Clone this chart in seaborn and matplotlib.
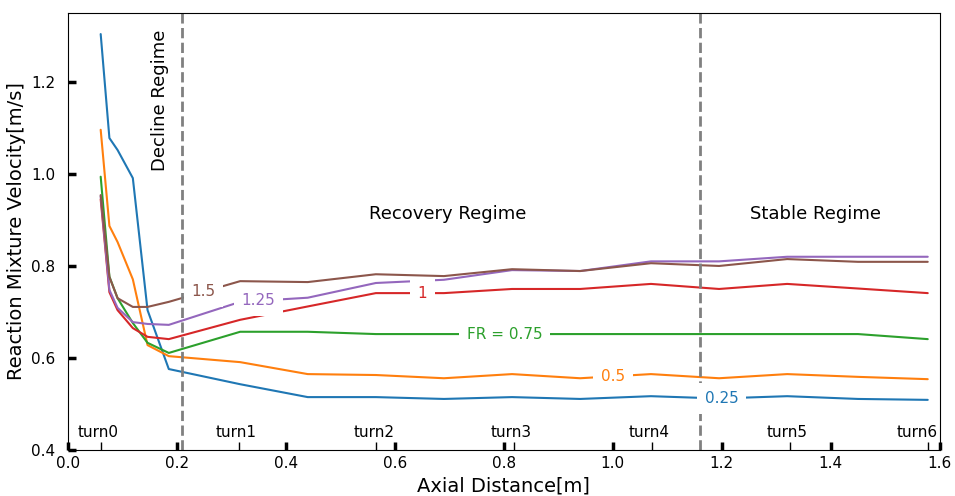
import numpy as np
import pandas as pd
import seaborn as sns
import matplotlib
matplotlib.use("Agg")
import matplotlib.pyplot as plt

# axial positions of the sampled points [m]
axial = [0.06, 0.076, 0.091, 0.119, 0.146, 0.185, 0.316, 0.44, 0.565,
         0.69, 0.815, 0.94, 1.07, 1.195, 1.32, 1.45, 1.578]

fr_levels = ["0.25", "0.5", "0.75", "1", "1.25", "1.5"]

v_025 = [1.304, 1.078, 1.052, 0.991, 0.704, 0.576, 0.543, 0.515, 0.515,
         0.511, 0.515, 0.511, 0.517, 0.512, 0.517, 0.511, 0.509]
v_050 = [1.096, 0.887, 0.852, 0.771, 0.628, 0.604, 0.591, 0.565, 0.563,
         0.556, 0.565, 0.556, 0.565, 0.556, 0.565, 0.559, 0.554]
v_075 = [0.994, 0.777, 0.730, 0.676, 0.633, 0.611, 0.657, 0.657, 0.652,
         0.652, 0.652, 0.652, 0.652, 0.652, 0.652, 0.652, 0.641]
v_100 = [0.945, 0.743, 0.704, 0.665, 0.646, 0.641, 0.683, 0.712, 0.741,
         0.741, 0.750, 0.750, 0.761, 0.750, 0.761, 0.751, 0.741]
v_125 = [0.952, 0.748, 0.709, 0.678, 0.674, 0.672, 0.722, 0.731, 0.763,
         0.770, 0.791, 0.789, 0.810, 0.810, 0.820, 0.820, 0.820]
v_150 = [0.954, 0.776, 0.730, 0.711, 0.711, 0.722, 0.767, 0.765, 0.782,
         0.778, 0.793, 0.789, 0.806, 0.800, 0.815, 0.809, 0.809]

turn_x = [0.06, 0.313, 0.566, 0.819, 1.072, 1.325, 1.578]
turn_names = ["turn0", "turn1", "turn2", "turn3", "turn4", "turn5", "turn6"]

# inline label text and where it sits on each curve
line_labels = ["0.25", "0.5", "FR = 0.75", "1", "1.25", "1.5"]
label_x = [1.2, 1.0, 0.802, 0.65, 0.35, 0.249]

series = [v_025, v_050, v_075, v_100, v_125, v_150]
df = pd.DataFrame({
    "Axial": np.tile(axial, len(series)),
    "Velocity": np.concatenate(series),
    "FR": np.repeat(fr_levels, len(axial)),
})

sns.set_style("white")
plt.rcParams["axes.edgecolor"] = "black"
plt.rcParams["text.color"] = "black"
plt.rcParams["axes.labelcolor"] = "black"
plt.rcParams["xtick.color"] = "black"
plt.rcParams["ytick.color"] = "black"
plt.rcParams["font.family"] = ["DejaVu Sans"]

fig, ax = plt.subplots(figsize=(9.55, 4.96), dpi=100)
fig.subplots_adjust(left=0.0712, right=0.984, top=0.974, bottom=0.0927)

palette = sns.color_palette("tab10", len(fr_levels))
sns.lineplot(data=df, x="Axial", y="Velocity", hue="FR", hue_order=fr_levels,
             palette=palette, linewidth=1.5, legend=False, ax=ax)

# inline labels, white box cuts the line like clabel
for i, txt in enumerate(line_labels):
    y = np.interp(label_x[i], axial, series[i])
    ax.text(label_x[i], y, txt, color=palette[i], fontsize=11,
            ha="center", va="center", zorder=4,
            bbox=dict(boxstyle="square,pad=0.5", fc="white", ec="none"))

ax.axvline(0.21, color="gray", ls="--", lw=2)
ax.axvline(1.16, color="gray", ls="--", lw=2)

ax.text(0.169, 1.159, "Decline Regime", rotation=90, fontsize=13,
        ha="center", va="center")
ax.text(0.697, 0.913, "Recovery Regime", fontsize=13, ha="center", va="center")
ax.text(1.372, 0.913, "Stable Regime", fontsize=13, ha="center", va="center")

for tx, name in zip(turn_x, turn_names):
    ax.text(min(tx - 0.005, 1.558), 0.437, name, fontsize=11,
            ha="center", va="center")

ax.set_xlim(0, 1.6)
ax.set_ylim(0.4, 1.35)
ax.set_xticks(np.arange(0, 1.61, 0.2))
ax.set_yticks(np.arange(0.4, 1.21, 0.2))
ax.set_xticks(turn_x, minor=True)
ax.tick_params(which="major", direction="in", length=6, width=2.5,
               labelsize=11, bottom=True, left=True)
ax.tick_params(axis="y", which="major", pad=9)
ax.tick_params(axis="x", which="major", pad=4)
ax.tick_params(axis="x", which="minor", direction="in", length=6, width=1,
               bottom=True)
ax.set_xlabel("Axial Distance[m]", fontsize=14)
ax.set_ylabel("Reaction Mixture Velocity[m/s]", fontsize=14)

fig.savefig("out.png", dpi=100)
